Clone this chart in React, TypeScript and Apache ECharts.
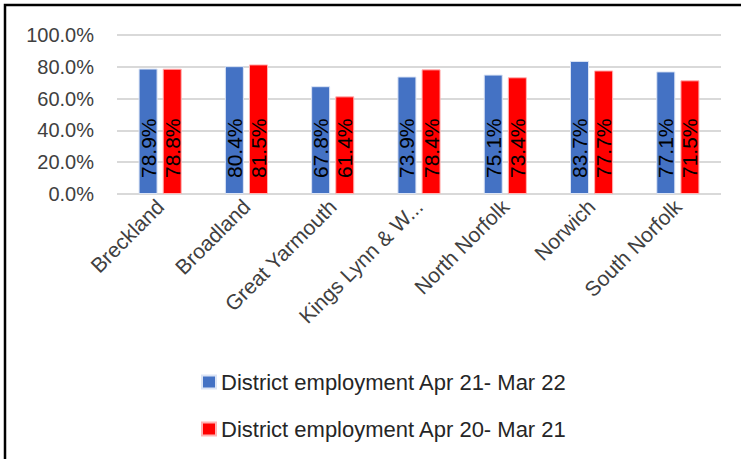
import React, { useEffect, useRef } from "react";
import * as echarts from "echarts";

const categories = [
  "Breckland",
  "Broadland",
  "Great Yarmouth",
  "Kings Lynn & West Norfolk",
  "North Norfolk",
  "Norwich",
  "South Norfolk",
];
const seriesNames = [
  "District employment Apr 21- Mar 22",
  "District employment Apr 20- Mar 21",
];
const employment2122 = [78.9, 80.4, 67.8, 73.9, 75.1, 83.7, 77.1];
const employment2021 = [78.8, 81.5, 61.4, 78.4, 73.4, 77.7, 71.5];
const yTicks = { min: 0, max: 100, interval: 20 };

const FONT = "'Liberation Sans', Arial, sans-serif";

export default function App() {
  const ref = useRef<HTMLDivElement>(null);
  useEffect(() => {
    if (!ref.current) return;
    const chart = echarts.init(ref.current, null, { renderer: "svg" });
    const barLabel = {
      show: true,
      position: "insideBottom",
      rotate: 90,
      align: "left",
      verticalAlign: "middle",
      distance: 16,
      color: "#000",
      fontSize: 21,
      fontFamily: FONT,
      formatter: (p: any) => p.value.toFixed(1) + "%",
    };
    chart.setOption({
      animation: false,
      backgroundColor: "#fff",
      textStyle: { fontFamily: FONT },
      graphic: [
        {
          type: "rect",
          shape: { x: 5, y: 5, width: 800, height: 500 },
          style: { fill: "none", stroke: "#000", lineWidth: 2.5 },
          silent: true,
        },
      ],
      legend: {
        orient: "vertical",
        left: 196,
        top: 366,
        itemWidth: 14,
        itemHeight: 13,
        itemGap: 25,
        icon: "rect",
        textStyle: { fontSize: 22, color: "#262626", fontFamily: FONT },
        data: seriesNames,
      },
      grid: { left: 117, right: 20, top: 35, bottom: 265 },
      xAxis: {
        type: "category",
        data: categories,
        axisLine: { show: false },
        axisTick: { show: false },
        axisLabel: {
          rotate: 45,
          interval: 0,
          margin: 9,
          fontSize: 21,
          color: "#404040",
          fontFamily: FONT,
          formatter: (v: string) => (v.length > 16 ? v.slice(0, 14) + "..." : v),
        },
      },
      yAxis: {
        type: "value",
        min: yTicks.min,
        max: yTicks.max,
        interval: yTicks.interval,
        axisLine: { show: false },
        axisTick: { show: false },
        splitLine: { lineStyle: { color: "#d9d9d9", width: 2 } },
        axisLabel: {
          margin: 23,
          fontSize: 20,
          color: "#404040",
          fontFamily: FONT,
          formatter: (v: number) => v.toFixed(1) + "%",
        },
      },
      series: [
        {
          name: seriesNames[0],
          type: "bar",
          data: employment2122,
          barWidth: 19,
          barGap: "27%",
          itemStyle: { color: "#4472C4", borderColor: "#dbe4f5", borderWidth: 1 },
          label: barLabel,
        },
        {
          name: seriesNames[1],
          type: "bar",
          data: employment2021,
          barWidth: 19,
          itemStyle: { color: "#FF0000", borderColor: "#ffb3b3", borderWidth: 1 },
          label: barLabel,
        },
      ],
    });
    return () => chart.dispose();
  }, []);
  return (
    <div
      ref={ref}
      style={{ position: "absolute", left: 0, top: 0, width: 741, height: 459 }}
    />
  );
}
